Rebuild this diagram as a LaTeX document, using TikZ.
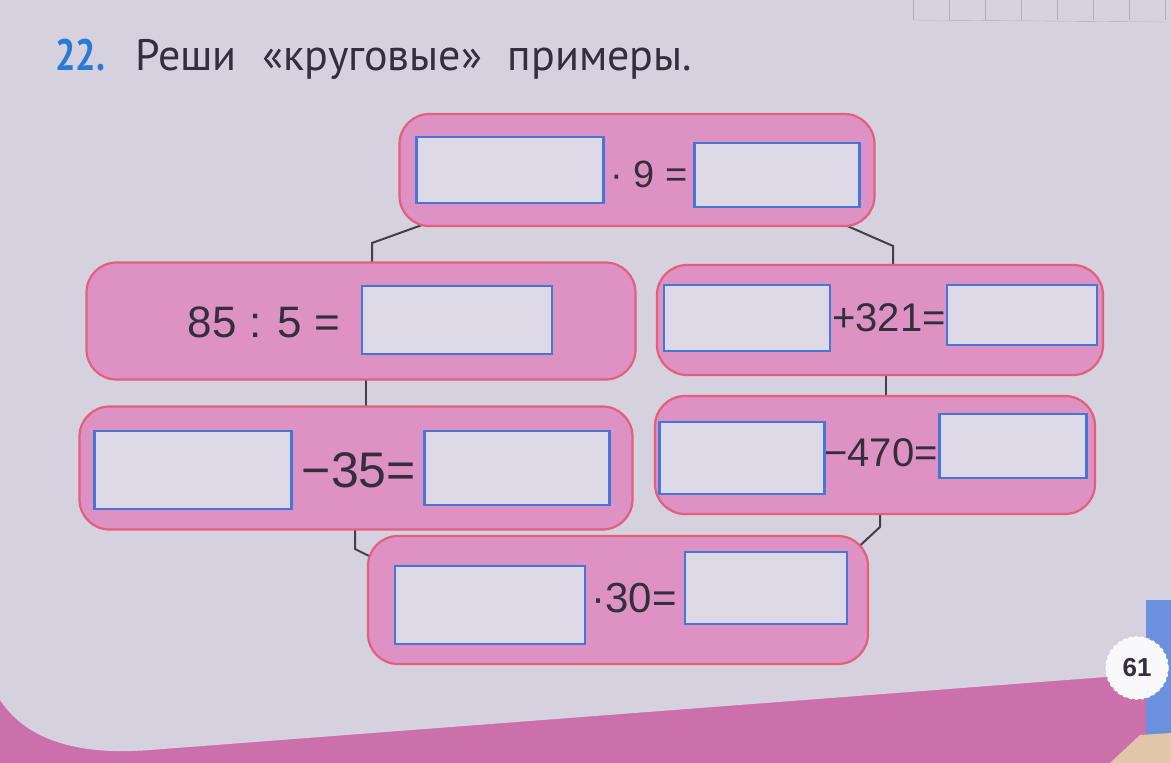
\documentclass[tikz,border=0pt]{standalone}
\usepackage{fontspec}
\setmainfont{Liberation Sans}
\newfontfamily\titlefont{PT Sans}
\usetikzlibrary{calc}
\pgfdeclarelayer{paper}
\pgfdeclarelayer{background}
\pgfsetlayers{paper,background,main}

\definecolor{page}{RGB}{214,209,223}
\definecolor{strip}{RGB}{204,112,172}
\definecolor{cardpink}{RGB}{222,146,196}
\definecolor{cardedge}{RGB}{226,96,122}
\definecolor{slotfill}{RGB}{221,217,231}
\definecolor{slotedge}{RGB}{70,118,214}
\definecolor{ink}{RGB}{52,46,62}
\definecolor{linkgray}{RGB}{66,62,74}
\definecolor{numblue}{RGB}{42,122,212}

\tikzset{
  card/.style={draw=cardedge,line width=2.2pt,fill=cardpink,rounded corners=30pt,inner sep=0pt},
  slot/.style={draw=slotedge,line width=2.3pt,fill=slotfill,inner sep=0pt},
  sign/.style={text=ink,inner sep=0pt},
  link/.style={draw=linkgray,line width=2pt}
}

\begin{document}
\begin{tikzpicture}[x=1pt,y=-1pt]
\useasboundingbox (0,0) rectangle (1171,763);

% page and bottom strip
\begin{pgfonlayer}{paper}
\fill[strip] (0,0) rectangle (1171,763);
\fill[page] (0,0) -- (1171,0) -- (1171,672) -- (150,750)
            .. controls (60,757) and (20,730) .. (0,700) -- cycle;
\fill[slotedge!80] (1146,600) rectangle (1171,735);
\fill[brown!45] (1110,763) -- (1140,735) -- (1171,733) -- (1171,763) -- cycle;
\foreach \gx in {913,949,...,1165}
  \draw[gray!60,thin] (\gx,0) -- (\gx,20);
\draw[gray!60,thin] (913,20) -- (1165,22);
\end{pgfonlayer}

% title
\node[anchor=base west,inner sep=0pt,text=numblue,font=\titlefont\bfseries\fontsize{44}{50}\selectfont,xscale=0.82] (num) at (55,70) {22.};
\node[anchor=base west,inner sep=0pt,text=ink,font=\titlefont\fontsize{44}{50}\selectfont] (title) at (135,70)
  {Реши\hspace{14pt} «круговые»\hspace{14pt} примеры.};

% cards
\node[card,minimum width=475pt,minimum height=112pt] (mulnine) at (637,170) {};
\node[card,minimum width=549pt,minimum height=117pt] (div) at (361,321) {};
\node[card,minimum width=446pt,minimum height=110pt] (add) at (880,320) {};
\node[card,minimum width=553pt,minimum height=123pt] (subA) at (356,468) {};
\node[card,minimum width=440pt,minimum height=118pt] (subB) at (875,455) {};
\node[card,minimum width=500pt,minimum height=128pt] (multhirty) at (618,600) {};

% slots and signs
\node[slot,minimum width=187pt,minimum height=66pt] (s1a) at (510,170) {};
\node[sign,font=\fontsize{38}{44}\selectfont] (t1) at (649,174) {· 9 =};
\node[slot,minimum width=165pt,minimum height=64pt] (s1b) at (777,175) {};

\node[sign,font=\fontsize{44}{50}\selectfont] (t2) at (264,322) {85 : 5 =};
\node[slot,minimum width=190pt,minimum height=68pt] (s2) at (457,320) {};

\node[slot,minimum width=166pt,minimum height=66pt] (s3a) at (747,318) {};
\node[sign,font=\fontsize{40}{46}\selectfont] (t3) at (889,318) {+321=};
\node[slot,minimum width=150pt,minimum height=60pt] (s3b) at (1022,315) {};

\node[slot,minimum width=197pt,minimum height=78pt] (s4a) at (193,470) {};
\node[sign,font=\fontsize{50}{56}\selectfont] (t4) at (359,470) {−35=};
\node[slot,minimum width=185pt,minimum height=74pt] (s4b) at (517,468) {};

\node[slot,minimum width=165pt,minimum height=72pt] (s5a) at (742,458) {};
\node[sign,font=\fontsize{40}{46}\selectfont] (t5) at (881,453) {−470=};
\node[slot,minimum width=147pt,minimum height=64pt] (s5b) at (1013,446) {};

\node[slot,minimum width=190pt,minimum height=78pt] (s6a) at (490,605) {};
\node[sign,font=\fontsize{42}{48}\selectfont] (t6) at (634,598) {·30=};
\node[slot,minimum width=162pt,minimum height=72pt] (s6b) at (766,588) {};

% links between the cards
\coordinate (bendA) at (372,243);
\coordinate (bendB) at (893,246);
\coordinate (legL) at (366,395);
\coordinate (legR) at (886,385);
\coordinate (bendC) at (355,549);
\coordinate (bendD) at (880,527);
\begin{pgfonlayer}{background}
\draw[link] ($(mulnine.south west)+(40,-8)$) -- (bendA) -- (bendA |- div.center);
\draw[link] ($(mulnine.south east)+(-44,-8)$) -- (bendB) -- (bendB |- add.center);
\draw[link] (legL |- div.center) -- (legL |- subA.center);
\draw[link] (legR |- add.center) -- (legR |- subB.center);
\draw[link] (bendC |- subA.center) -- (bendC) -- ($(multhirty.north west)+(40,40)$);
\draw[link] (bendD |- subB.center) -- (bendD) -- ($(multhirty.north east)+(-30,30)$);
\end{pgfonlayer}

% page number
\node[circle,draw=white,dashed,line width=1.5pt,fill=white!85!page,minimum size=62pt,inner sep=0pt,
      text=ink,font=\bfseries\fontsize{26}{30}\selectfont] (pagenum) at (1137,668) {61};
\end{tikzpicture}
\end{document}
